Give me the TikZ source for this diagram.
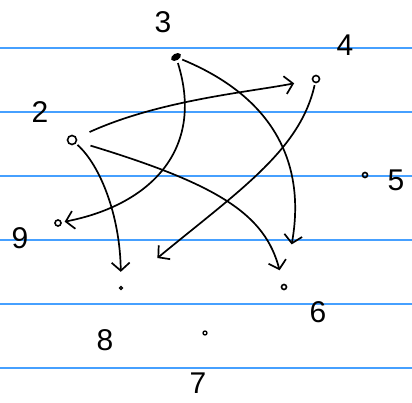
\documentclass[tikz,border=0pt]{standalone}
\usepackage{fontspec}
\setmainfont{Liberation Sans}
\usetikzlibrary{arrows.meta,shapes.geometric}
\definecolor{ruled}{RGB}{70,160,255}
\tikzset{
  pt/.style={circle,draw,line width=1.6pt,minimum size=7pt,inner sep=0pt},
  lbl/.style={font=\fontsize{30}{30}\selectfont},
  edge/.style={line width=1.7pt,-{Straight Barb[length=8pt,width=18pt,line width=1.7pt]}},
  rule/.style={ruled,line width=1.3pt}
}
\begin{document}
\begin{tikzpicture}[x=1pt,y=-1pt]
\useasboundingbox (0,0) rectangle (412,403);
\fill[white] (0,0) rectangle (412,403);
\foreach \yy in {48,112,176,240,304,368}
  \draw[rule] (0,\yy) -- (412,\yy);
% vertices
\node[draw,line width=1.6pt,fill=black,minimum width=9pt,minimum height=5pt,inner sep=0pt,ellipse,rotate=30] (n3) at (176,57) {};
\node[pt] (n4) at (316,79) {};
\node[pt,minimum size=9pt] (n2) at (72,140) {};
\node[pt,minimum size=5pt] (n5) at (365,175) {};
\node[pt,minimum size=6pt] (n9) at (58,223) {};
\node[pt,minimum size=3pt,line width=1.3pt] (n8) at (121,288) {};
\node[pt,minimum size=5pt] (n6) at (284,287) {};
\node[pt,minimum size=4pt,line width=1.3pt] (n7) at (205,333) {};
% labels
\node[lbl] (l3) at (163,22) {3};
\node[lbl] (l4) at (345,45) {4};
\node[lbl] (l2) at (40,112) {2};
\node[lbl] (l5) at (396,180) {5};
\node[lbl] (l9) at (20,238) {9};
\node[lbl] (l8) at (105,340) {8};
\node[lbl] (l6) at (318,312) {6};
\node[lbl] (l7) at (198,383) {7};
% edges
\draw[edge,shorten <=2pt,shorten >=14pt] (n2) .. controls (100,165) and (120,215) .. (n8);
\draw[edge,shorten <=14pt,shorten >=18pt] (n2) .. controls (160,100) and (250,92) .. (n4);
\draw[edge,shorten <=14pt,shorten >=14pt] (n2) .. controls (220,185) and (265,215) .. (n6);
\draw[edge,shorten <=2pt,shorten >=45pt] (n4) .. controls (300,150) and (240,190) .. (n8);
\draw[edge,shorten <=3pt,shorten >=3pt] (n3) .. controls (205,150) and (150,205) .. (n9);
\draw[edge,shorten <=3pt,shorten >=40pt] (n3) .. controls (280,100) and (305,170) .. (n6);
\end{tikzpicture}
\end{document}
